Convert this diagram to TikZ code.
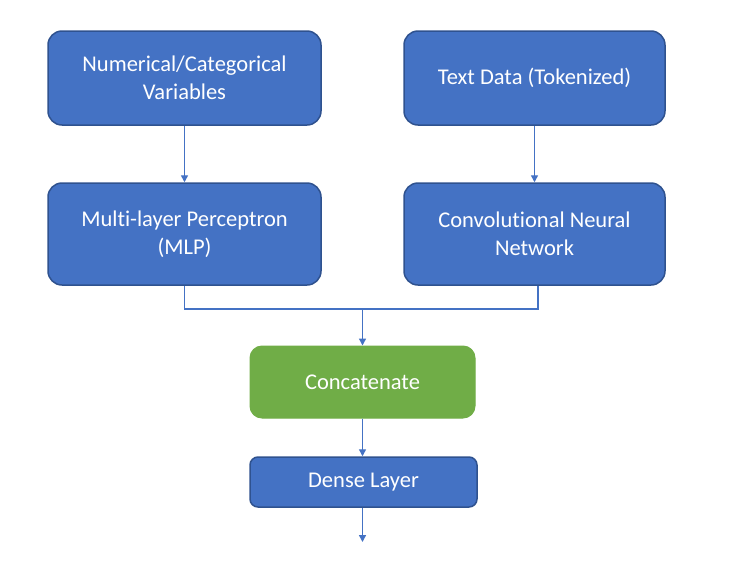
\documentclass[tikz,border=0pt]{standalone}
\usepackage{fontspec}
\setmainfont[Ligatures=NoCommon]{Carlito}
\usetikzlibrary{arrows.meta}
\definecolor{boxblue}{HTML}{4472C4}
\definecolor{boxedge}{HTML}{2F528F}
\definecolor{boxgreen}{HTML}{70AD47}
\tikzset{
  bluebox/.style={draw=boxedge, fill=boxblue, line width=1.5pt, rounded corners=14pt, text=white, align=center, font=\fontsize{22.5}{28}\selectfont, inner sep=0pt},
  greenbox/.style={draw=boxgreen, fill=boxgreen, line width=1pt, rounded corners=12pt, text=white, align=center, font=\fontsize{22.5}{28}\selectfont, inner sep=0pt},
  conn/.style={draw=boxblue, line width=1.4pt},
  arr/.style={conn, -{Triangle[width=7pt,length=7pt]}}
}
\begin{document}
\begin{tikzpicture}[x=1pt,y=-1pt]
\useasboundingbox (0,0) rectangle (736,576);
\node[bluebox, minimum width=273pt, minimum height=94pt] (num) at (184.5,78) {Numerical/Categorical\\Variables};
\node[bluebox, minimum width=261pt, minimum height=94pt] (txt) at (534.5,78) {Text Data (Tokenized)};
\node[bluebox, minimum width=273pt, minimum height=102pt] (mlp) at (184.5,234) {Multi-layer Perceptron\\(MLP)};
\node[bluebox, minimum width=261pt, minimum height=102pt] (cnn) at (534.5,234) {Convolutional Neural\\Network};
\node[greenbox, minimum width=225pt, minimum height=72pt] (cat) at (362.5,382) {Concatenate};
\node[bluebox, rounded corners=8pt, minimum width=227pt, minimum height=50pt] (dense) at (363.5,482) {Dense Layer};
\coordinate (join) at (362.5,309);
\coordinate (out) at (362.5,542);
\draw[arr] (num.south) -- (mlp.north);
\draw[arr] (txt.south) -- (cnn.north);
\draw[conn] (mlp.south) |- (join);
\draw[conn] ([xshift=3.5pt]cnn.south) |- (join);
\draw[arr] (join) -- (cat.north);
\draw[arr] (cat.south) -- (cat.south |- dense.north);
\draw[arr] (cat.south |- dense.south) -- (out);
\end{tikzpicture}
\end{document}
